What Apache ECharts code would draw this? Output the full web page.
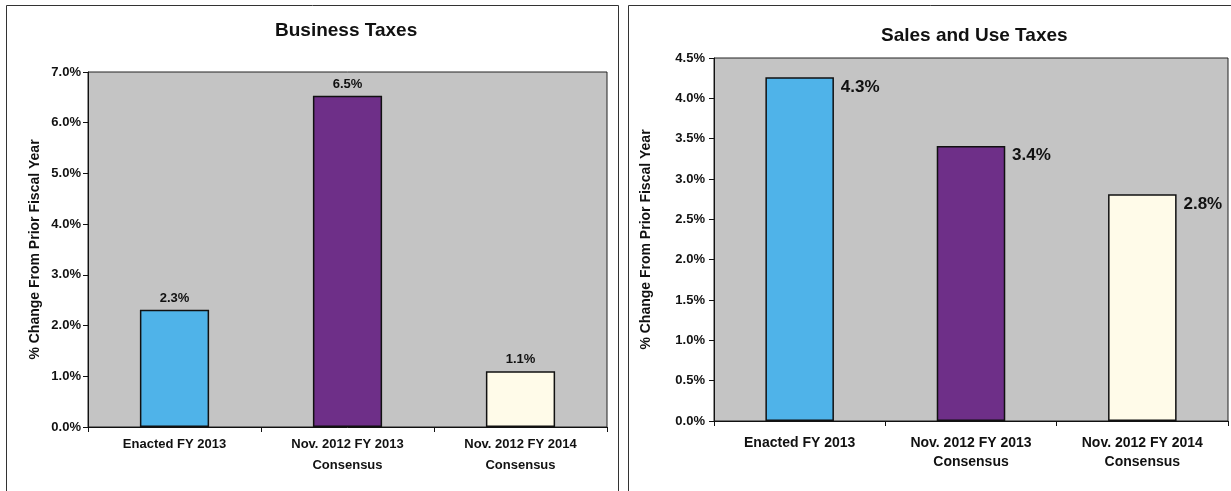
<!DOCTYPE html>
<html><head><meta charset="utf-8">
<script src="https://cdn.jsdelivr.net/npm/echarts@6/dist/echarts.min.js"></script>
<style>html,body{margin:0;padding:0;background:#fff}#c{width:1231px;height:491px}</style>
</head><body><div id="c"></div>
<script>
const categories = ['Enacted FY 2013', 'Nov. 2012 FY 2013\nConsensus', 'Nov. 2012 FY 2014\nConsensus'];
const businessValues = [2.31, 6.53, 1.10];
const salesValues = [4.26, 3.41, 2.81];
const barColors = ['#4fb3e9', '#6e2f88', '#fffbe9'];
const businessTicks = {min: 0, max: 7, interval: 1};
const salesTicks = {min: 0, max: 4.5, interval: 0.5};
const titles = ['Business Taxes', 'Sales and Use Taxes'];
const yName = '% Change From Prior Fiscal Year';

const FONT = '"Liberation Sans", Arial, sans-serif';
const chart = echarts.init(document.getElementById('c'));
const fmt = v => v.toFixed(1) + '%';
function xAxis(i, fs, margin, lh){
  return {gridIndex:i, type:'category', data:categories,
    axisLine:{lineStyle:{color:'#111', width:1}},
    axisTick:{show:true, length:5, lineStyle:{color:'#111'}},
    axisLabel:{fontFamily:FONT, fontWeight:'bold', fontSize:fs, color:'#111', lineHeight:lh, margin:margin}};
}
function yAxis(i, t, gap, margin){
  return {gridIndex:i, type:'value', min:t.min, max:t.max, interval:t.interval,
    name:yName, nameLocation:'middle', nameRotate:90, nameGap:gap,
    nameTextStyle:{fontFamily:FONT, fontWeight:'bold', fontSize:14, color:'#111'},
    axisLine:{show:true, lineStyle:{color:'#111'}},
    axisTick:{show:true, length:5, lineStyle:{color:'#111'}},
    splitLine:{show:false},
    axisLabel:{fontFamily:FONT, fontWeight:'bold', fontSize:13, color:'#111', margin:margin, formatter:fmt}};
}
function dataOf(vals){ return vals.map((v,k)=>({value:v, itemStyle:{color:barColors[k]}})); }
chart.setOption({
  backgroundColor:'#fff',
  animation:false,
  title:[
    {text:titles[0], left:270, top:16, textStyle:{fontFamily:FONT, fontWeight:'bold', fontSize:19, color:'#111'}},
    {text:titles[1], left:876, top:21, textStyle:{fontFamily:FONT, fontWeight:'bold', fontSize:19, color:'#111'}}
  ],
  graphic:[
    {type:'rect', shape:{x:6.5, y:5.5, width:612, height:490}, style:{fill:'none', stroke:'#333', lineWidth:1}, silent:true},
    {type:'rect', shape:{x:628.5, y:5.5, width:610, height:490}, style:{fill:'none', stroke:'#333', lineWidth:1}, silent:true}
  ],
  grid:[
    {left:88, right:624, top:72, bottom:64, show:true, backgroundColor:'#c4c4c4', borderColor:'#222', borderWidth:1},
    {left:714, right:3, top:58, bottom:70, show:true, backgroundColor:'#c4c4c4', borderColor:'#222', borderWidth:1}
  ],
  xAxis:[xAxis(0, 13, 7, 21), xAxis(1, 14, 13, 19)],
  yAxis:[yAxis(0, businessTicks, 46, 7), yAxis(1, salesTicks, 61, 9)],
  series:[
    {type:'bar', xAxisIndex:0, yAxisIndex:0, data:dataOf(businessValues), barCategoryGap:'60%',
      itemStyle:{borderColor:'#111', borderWidth:1.5},
      label:{show:true, position:'top', distance:5, fontFamily:FONT, fontWeight:'bold', fontSize:13, color:'#111', formatter:p=>fmt(p.value)}},
    {type:'bar', xAxisIndex:1, yAxisIndex:1, data:dataOf(salesValues), barCategoryGap:'60%',
      itemStyle:{borderColor:'#111', borderWidth:1.5},
      label:{show:true, position:['110%', 1], align:'left', verticalAlign:'top', fontFamily:FONT, fontWeight:'bold', fontSize:17, color:'#111', formatter:p=>fmt(p.value)}}
  ]
});
</script></body></html>
